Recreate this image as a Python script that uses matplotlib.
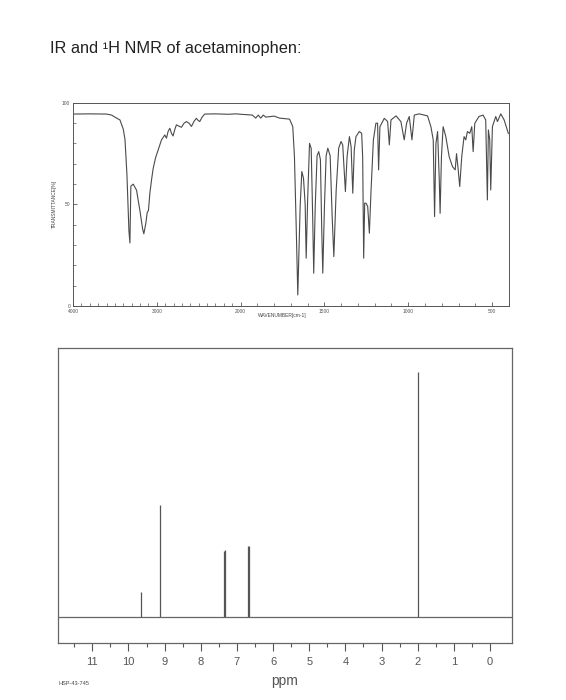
import matplotlib
matplotlib.use('Agg')
import matplotlib.pyplot as plt
import numpy as np

plt.rcParams['font.family'] = ['Liberation Sans', 'DejaVu Sans']

# IR spectrum, wavenumber (cm-1) vs transmittance (%)
ir_wn = [4000, 3800, 3600, 3540, 3500, 3440, 3400, 3380, 3357, 3333, 3321, 3310,
         3282, 3242, 3202, 3170, 3155, 3130, 3115, 3100, 3083, 3060, 3044, 3015,
         2984, 2944, 2925, 2905, 2885, 2865, 2845, 2825, 2806, 2785, 2766, 2735,
         2706, 2675, 2647, 2615, 2587, 2555, 2528, 2510, 2488, 2460, 2429, 2300,
         2150, 2052, 2000, 1930, 1910, 1895, 1880, 1865, 1850, 1800, 1768, 1708,
         1689, 1679, 1669, 1659, 1645, 1635, 1625, 1615, 1609, 1600, 1589, 1579,
         1570, 1564, 1555, 1544, 1534, 1524, 1516, 1510, 1500, 1490, 1480, 1466,
         1454, 1444, 1430, 1415, 1401, 1391, 1381, 1375, 1365, 1351, 1341, 1331,
         1322, 1312, 1292, 1278, 1272, 1266, 1260, 1252, 1242, 1232, 1222, 1208,
         1193, 1183, 1177, 1169, 1143, 1123, 1113, 1103, 1073, 1044, 1024, 1010,
         994, 978, 964, 935, 885, 865, 851, 843, 835, 825, 815, 810, 802, 792,
         776, 756, 736, 720, 712, 702, 693, 681, 667, 657, 647, 633, 621, 613,
         603, 578, 554, 538, 528, 522, 514, 508, 498, 478, 468, 448, 428, 403]
ir_t = [94.5, 94.6, 94.5, 94, 93, 91.6, 87, 82, 65, 37, 31, 59,
        60, 57, 47, 38, 35.5, 41, 46, 47, 55.6, 63, 67.6, 73,
        76.8, 81.8, 83, 84.2, 82.6, 86, 87.5, 85, 83.7, 87, 89.2, 88.5,
        88, 90, 90.8, 90, 88.4, 91, 92.4, 91.5, 90.8, 93, 94.5, 94.6,
        94.4, 94.6, 94.4, 94, 92.5, 94, 92.5, 94, 93, 93.5, 92.5, 92,
        88.3, 73.5, 40.7, 5.4, 49, 66.2, 62.9, 50, 23.5, 53, 80.1, 77.5,
        43, 16.1, 49, 74, 76, 72, 37, 16.1, 49, 74, 77.7, 74,
        44, 24.3, 57, 77.7, 81, 79.3, 65, 56.3, 73.5, 83.4, 78.5, 55.5,
        76.8, 83.4, 85.9, 85, 73.5, 23.5, 50.6, 50.6, 49, 35.8, 57, 81.8,
        90, 90, 67, 88.3, 92.4, 90.8, 79.3, 91.6, 93.6, 90.8, 81.8, 90,
        93.3, 81.8, 94, 94.6, 93.6, 88.3, 81.8, 44, 80, 85.9, 62, 45.6, 73.5, 88.3,
        83.4, 73.5, 68.6, 67, 75, 67, 58.8, 73.5, 83.4, 81.8, 85.9, 85, 88.3, 76,
        90, 93.3, 94, 91.6, 52.2, 86.7, 81.8, 57.1, 88.3, 93.3, 90.8, 94.6, 91.6, 85]
ir_ticks = [4000, 3000, 2000, 1500, 1000, 500]

# 1H NMR peaks (ppm, relative height)
nmr_ppm = [9.65, 9.13, 7.36, 7.34, 6.70, 6.68, 1.98]
nmr_height = [0.102, 0.457, 0.27, 0.273, 0.29, 0.288, 1.0]
nmr_ticks = list(range(0, 12))


def _fwd(w):
    w = np.asarray(w, dtype=float)
    return np.where(w >= 2000, w / 1000.0, w / 500.0 - 2.0)


def _inv(p):
    p = np.asarray(p, dtype=float)
    return np.where(p >= 2, p * 1000.0, (p + 2.0) * 500.0)


fig = plt.figure(figsize=(5.66, 7.0), dpi=100)
fig.text(0.089, 0.931, 'IR and \u00b9H NMR of acetaminophen:', fontsize=11.8,
         color='#222222', va='center', ha='left')

# IR panel
ax1 = fig.add_axes([0.129, 0.563, 0.770, 0.290])
ax1.set_xscale('function', functions=(_fwd, _inv))
ax1.plot(ir_wn, ir_t, color='#4a4a4a', lw=0.8)
ax1.set_xlim(4000, 400)
ax1.set_ylim(0, 100)
ax1.set_xticks(ir_ticks)
ax1.set_xticklabels([str(t) for t in ir_ticks])
ax1.set_xticks(np.arange(500, 4000, 100), minor=True)
ax1.set_yticks([0, 50, 100])
ax1.set_yticks(np.arange(0, 101, 10), minor=True)
ax1.tick_params(axis='both', which='major', direction='in', length=3,
                width=0.6, labelsize=3.5, pad=2, colors='#555555')
ax1.tick_params(axis='both', which='minor', direction='in', length=2,
                width=0.5, colors='#555555')
for s in ax1.spines.values():
    s.set_color('#555555')
    s.set_linewidth(0.7)
ax1.set_xlabel('WAVENUMBER[cm-1]', fontsize=3.5, color='#444444', labelpad=1)
ax1.xaxis.set_label_coords(0.48, -0.035)
ax1.set_ylabel('TRANSMITTANCE[%]', fontsize=3.5, color='#444444', labelpad=4)

# NMR panel
ax2 = fig.add_axes([0.1025, 0.0814, 0.8021, 0.4214])
ax2.vlines(nmr_ppm, 0, nmr_height, color='#555555', lw=0.9)
ax2.axhline(0, color='#666666', lw=0.9)
ax2.set_xlim(11.95, -0.61)
ax2.set_ylim(-0.106, 1.098)
ax2.set_xticks(nmr_ticks)
ax2.set_xticklabels([str(t) for t in nmr_ticks])
ax2.set_xticks(np.arange(0.5, 11.6, 1.0), minor=True)
ax2.set_yticks([])
ax2.tick_params(axis='x', which='major', direction='out', length=6,
                width=0.8, labelsize=8, pad=4, colors='#555555')
ax2.tick_params(axis='x', which='minor', direction='out', length=3,
                width=0.8, colors='#555555')
for s in ax2.spines.values():
    s.set_color('#666666')
    s.set_linewidth(0.9)
ax2.set_xlabel('ppm', fontsize=10, color='#555555', labelpad=5)
fig.text(0.103, 0.023, 'HSP-43-745', fontsize=4, color='#444444', va='center')

fig.savefig('out.png', dpi=100)
